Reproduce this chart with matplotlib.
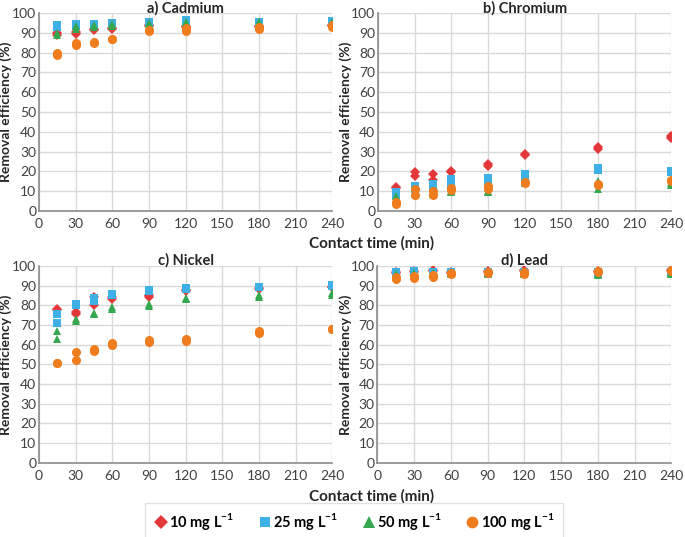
import matplotlib
matplotlib.use("Agg")
import matplotlib.pyplot as plt
import numpy as np

plt.rcParams['font.family'] = ['Lato', 'DejaVu Sans']
plt.rcParams['mathtext.fontset'] = 'custom'
plt.rcParams['mathtext.rm'] = 'Lato'
plt.rcParams['mathtext.bf'] = 'Lato:bold'

# tempo de contato (min), duas réplicas por ponto
time = [15, 30, 45, 60, 90, 120, 180, 240]

cd_10 = [(89, 90), (89.5, 90.5), (91.5, 92), (92, 92.5), (93.5, 94), (93, 93.5), (93, 93.5), (93.5, 94)]
cd_25 = [(93, 94), (93.5, 94.5), (94, 94.5), (94.5, 95), (95, 95.5), (95.5, 96.5), (95, 95.5), (95.5, 96)]
cd_50 = [(89, 90), (92, 93.5), (93, 94), (93.5, 94.5), (94.5, 95), (94.5, 95.5), (95, 95.5), (94.5, 95.5)]
cd_100 = [(79, 80), (84, 85), (85, 85.5), (87, 87), (91, 91.5), (91, 92.5), (92, 93), (93, 94)]

cr_10 = [(11.5, 12), (17.5, 19.5), (15.5, 18.5), (19.5, 20), (22.5, 23.5), (28.5, 29), (31.5, 32.5), (37, 38)]
cr_25 = [(8, 9.5), (11, 12.5), (12, 13.5), (13, 16), (14.5, 16.5), (17, 18.5), (20.5, 21.5), (19.5, 20)]
cr_50 = [(5, 7.5), (8.5, 9.5), (8.5, 9.5), (9.5, 10), (9.5, 10), (14, 14.5), (11, 15), (13, 14)]
cr_100 = [(3.5, 4.5), (8, 11), (8, 10), (10.5, 11.5), (11, 12.5), (14, 14.5), (13, 13.5), (15, 15.5)]

ni_10 = [(77.5, 78), (75.5, 76.5), (80, 84), (83, 84), (84, 85), (87, 87.5), (88, 88.5), (89, 89.5)]
ni_25 = [(71, 75.5), (80, 80.5), (82, 83.5), (85, 85.5), (87, 87.5), (88, 88.5), (89, 89.5), (90, 90.5)]
ni_50 = [(63, 67), (72, 73), (75.5, 76), (78, 79), (79.5, 80.5), (83, 83.5), (84, 85), (85, 86)]
ni_100 = [(50.5, 50.5), (52, 56.5), (57, 58), (60, 61), (61.5, 62.5), (62, 63), (66, 67), (68, 68)]

pb_10 = [(96.5, 97), (97, 97.5), (97.5, 98), (96.5, 97), (97, 97.5), (97.5, 98), (97, 97.5), (97.5, 98)]
pb_25 = [(96.5, 97), (97, 97.5), (96.5, 97), (96.5, 97), (96.5, 97), (96.5, 97), (96.5, 97), (96.5, 97)]
pb_50 = [(95.5, 96), (96, 96.5), (96, 96.5), (96, 96.5), (96, 96.5), (96, 96.5), (95.5, 96), (96, 96.5)]
pb_100 = [(93.5, 94.5), (94, 95), (94.5, 95.5), (96, 96.5), (96.5, 97), (96, 97), (97, 97.5), (97.5, 98)]

titles = ["a) Cadmium", "b) Chromium", "c) Nickel", "d) Lead"]
panels = [[cd_10, cd_25, cd_50, cd_100],
          [cr_10, cr_25, cr_50, cr_100],
          [ni_10, ni_25, ni_50, ni_100],
          [pb_10, pb_25, pb_50, pb_100]]
labels = [r"10 mg L$^{\mathbf{-1}}$", r"25 mg L$^{\mathbf{-1}}$",
          r"50 mg L$^{\mathbf{-1}}$", r"100 mg L$^{\mathbf{-1}}$"]
markers = ["D", "s", "^", "o"]
colors = ["#e2383a", "#3fb0e5", "#35a84f", "#ef7d1e"]
msizes = [5.5, 6, 6.3, 6.5]

fig = plt.figure(figsize=(6.85, 5.37), dpi=100)
positions = [[0.057, 0.607, 0.428, 0.369],
             [0.552, 0.607, 0.428, 0.369],
             [0.057, 0.138, 0.428, 0.367],
             [0.551, 0.138, 0.429, 0.367]]
ylab_x = [(12 - 39) / 293, (352 - 378) / 293, (12 - 39) / 293, (352 - 377) / 294]

handles = []
for k in range(4):
    ax = fig.add_axes(positions[k])
    for s in range(4):
        vals = np.array(panels[k][s])
        t = np.repeat(time, 2)
        h, = ax.plot(t, vals.ravel(), linestyle="none", marker=markers[s],
                     color=colors[s], markersize=msizes[s], markeredgewidth=0,
                     label=labels[s])
        if k == 0:
            handles.append(h)
    ax.set_xlim(0, 240)
    ax.set_ylim(0, 100)
    ax.set_xticks(range(0, 241, 30))
    ax.set_yticks(range(0, 101, 10))
    ax.grid(True, color="#d9d9d9", linewidth=1)
    ax.set_axisbelow(True)
    for sp in ["top", "right"]:
        ax.spines[sp].set_visible(False)
    for sp in ["left", "bottom"]:
        ax.spines[sp].set_color("#8c8c8c")
        ax.spines[sp].set_linewidth(1.2)
    ax.tick_params(length=0, labelsize=10, pad=2, colors="#404040")
    ax.tick_params(axis="x", pad=5)
    ax.set_ylabel("Removal efficiency (%)", fontsize=10, fontweight="bold",
                  color="#262626")
    ax.yaxis.set_label_coords(ylab_x[k], 0.5)
    ax.text(0.5, 1.004, titles[k], transform=ax.transAxes, ha="center", va="baseline",
            fontsize=10.5, fontweight="bold", color="#262626")

fig.text(372 / 685, 1 - 243 / 537, "Contact time (min)", ha="center", va="center",
         fontsize=11, fontweight="bold", color="#262626")
fig.text(372 / 685, 1 - 496 / 537, "Contact time (min)", ha="center", va="center",
         fontsize=11, fontweight="bold", color="#262626")

leg = fig.legend(handles=handles, loc="center", bbox_to_anchor=(354 / 685, 1 - 522 / 537),
                 ncol=4, frameon=True, fancybox=False, handletextpad=0.05,
                 columnspacing=1.6, handlelength=1.0, borderpad=0.6, markerscale=1.3,
                 prop={"weight": "bold", "size": 10.5})
leg.get_frame().set_edgecolor("#d9d9d9")
leg.get_frame().set_linewidth(1)

fig.savefig("out.png", dpi=100)
